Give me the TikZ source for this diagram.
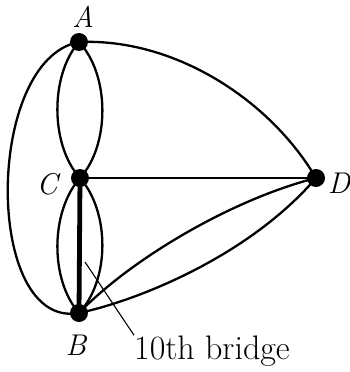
\documentclass[tikz,border=0pt]{standalone}
\begin{document}
\begin{tikzpicture}[x=1pt,y=-1pt,
  vert/.style={circle,fill=black,inner sep=0pt,minimum size=18pt},
  edge/.style={line width=2.3pt},
  bridge/.style={line width=4.8pt},
  vlab/.style={font=\fontsize{30}{34}\selectfont\itshape,inner sep=0pt},
  ptr/.style={line width=1.1pt},
  note/.style={font=\fontsize{34}{40}\selectfont,inner sep=0pt}]
\useasboundingbox (0,0) rectangle (350,372);
\node[vert] (A) at (79,42) {};
\node[vert] (C) at (80,178) {};
\node[vert] (B) at (79,313) {};
\node[vert] (D) at (316,178) {};
\node[vlab] (lA) at (83,17) {A};
\node[vlab] (lC) at (47,184) {C};
\node[vlab] (lB) at (76,345) {B};
\node[vlab] (lD) at (339,183) {D};
% A-C
\draw[edge] (A.center) .. controls (50,75) and (50,145) .. (C.center);
\draw[edge] (A.center) .. controls (110,75) and (110,145) .. (C.center);
% C-B
\draw[edge] (C.center) .. controls (50,212) and (50,280) .. (B.center);
\draw[edge] (C.center) .. controls (110,212) and (110,280) .. (B.center);
\draw[bridge] (C.center) -- (B.center);
% A-B outer
\draw[edge] (A.center) .. controls (-16,60) and (-16,330) .. (B.center);
% A-D
\draw[edge] (A.center) .. controls (175,38) and (270,100) .. (D.center);
% C-D
\draw[edge] (C.center) -- (D.center);
% B-D
\draw[edge] (B.center) .. controls (130,260) and (230,200) .. (D.center);
\draw[edge] (B.center) .. controls (140,300) and (250,255) .. (D.center);
% label
\coordinate (p) at (85,262);
\node[note,anchor=base west] (lbl) at (134,359) {10th bridge};
\draw[ptr] (p) -- (lbl.north west);
\end{tikzpicture}
\end{document}
